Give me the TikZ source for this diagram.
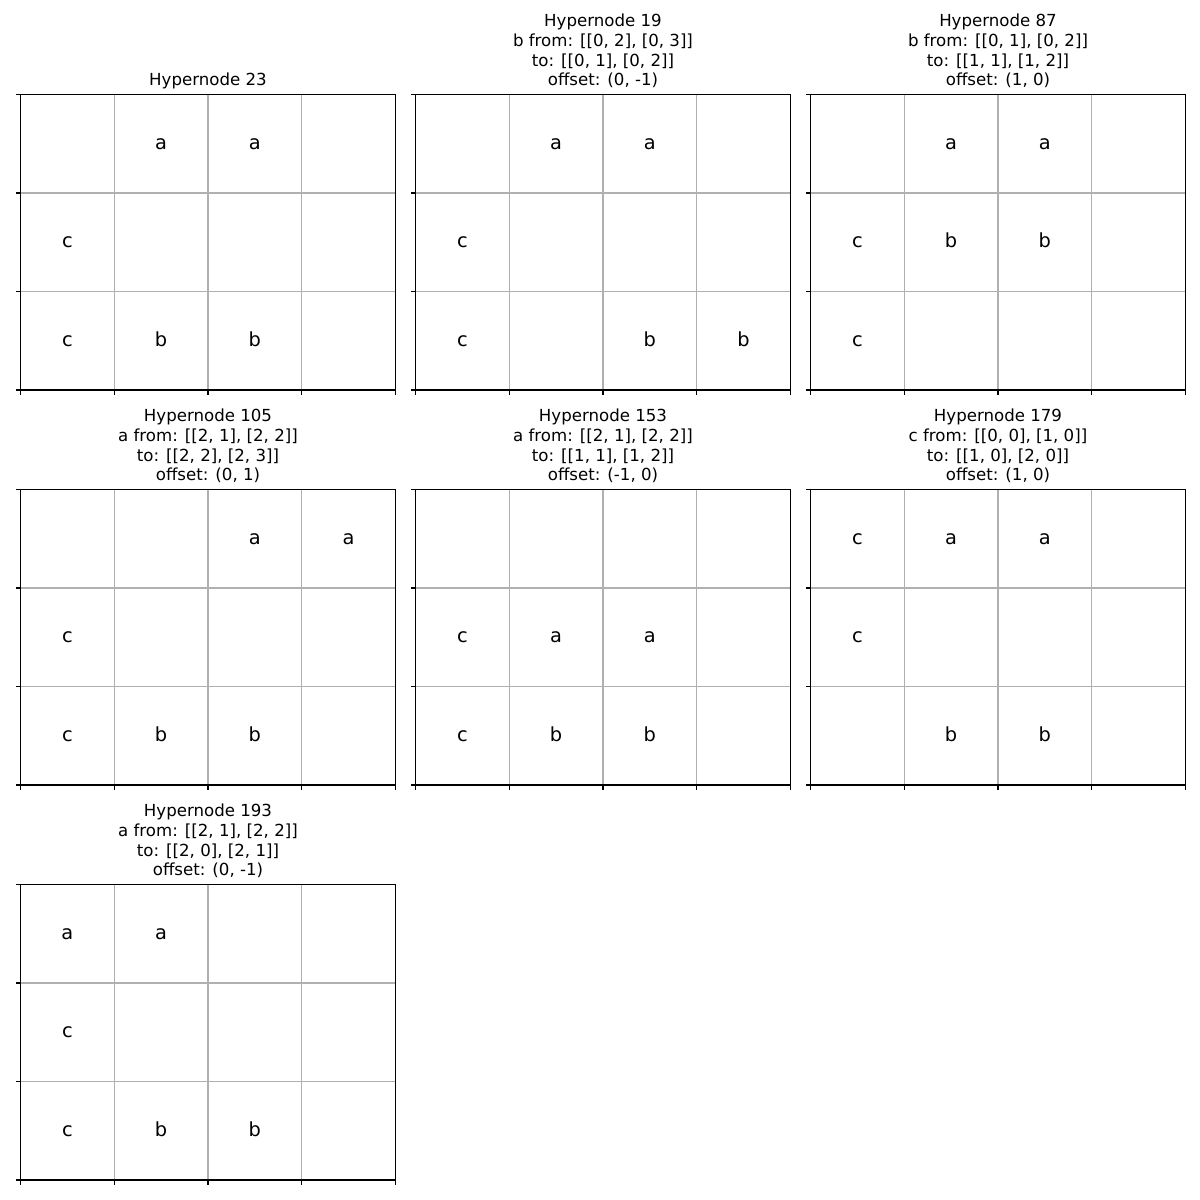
\documentclass[tikz,border=0pt]{standalone}
\usepackage{fontspec}
\setmainfont{DejaVu Sans}
\definecolor{gridgray}{HTML}{B0B0B0}

% one grid panel: id, left, top, title, cells row/col/letter
\newcommand{\hyperpanel}[5]{%
  \begin{scope}[shift={(#2,#3)}]
    \foreach \i in {1,2,3}
      \draw[gridline] (\i*93.75,0) -- (\i*93.75,295.5);
    \foreach \j in {1,2}
      \draw[gridline] (0,\j*98.5) -- (375,\j*98.5);
    \draw[frame] (0,0) rectangle (375,295.5);
    \foreach \i in {0,...,4}
      \draw[frame] (\i*93.75,295.5) -- ++(0,4.86);
    \foreach \j in {0,...,3}
      \draw[frame] (0,\j*98.5) -- ++(-4.86,0);
    \node[paneltitle] (p#1-title) at (187.5,-2.3) {#4\strut};
    \foreach \r/\c/\l in {#5}
      \node[cell] (p#1-\r-\c) at ({(\c+0.5)*93.75},{(\r+0.5)*98.5+5.7}) {\l};
  \end{scope}}

\begin{document}
\begin{tikzpicture}[
    x=0.01in, y=-0.01in,
    gridline/.style={draw=gridgray,line width=0.8pt},
    frame/.style={draw=black,line width=0.8pt},
    paneltitle/.style={anchor=south,inner sep=0pt,align=center,font=\fontsize{12}{14.4}\selectfont},
    cell/.style={anchor=base,inner sep=0pt,font=\fontsize{14}{16.8}\selectfont}
]
    \useasboundingbox (0,0) rectangle (1200,1200);

    % first row
    \hyperpanel{23}{20.5}{94.5}{Hypernode 23}
      {0/1/a, 0/2/a, 1/0/c, 2/0/c, 2/1/b, 2/2/b}
    \hyperpanel{19}{415.5}{94.5}{Hypernode 19\\b from: [[0, 2], [0, 3]]\\to: [[0, 1], [0, 2]]\\offset: (0, -1)}
      {0/1/a, 0/2/a, 1/0/c, 2/0/c, 2/2/b, 2/3/b}
    \hyperpanel{87}{810.5}{94.5}{Hypernode 87\\b from: [[0, 1], [0, 2]]\\to: [[1, 1], [1, 2]]\\offset: (1, 0)}
      {0/1/a, 0/2/a, 1/0/c, 1/1/b, 1/2/b, 2/0/c}

    % second row
    \hyperpanel{105}{20.5}{489.5}{Hypernode 105\\a from: [[2, 1], [2, 2]]\\to: [[2, 2], [2, 3]]\\offset: (0, 1)}
      {0/2/a, 0/3/a, 1/0/c, 2/0/c, 2/1/b, 2/2/b}
    \hyperpanel{153}{415.5}{489.5}{Hypernode 153\\a from: [[2, 1], [2, 2]]\\to: [[1, 1], [1, 2]]\\offset: (-1, 0)}
      {1/0/c, 1/1/a, 1/2/a, 2/0/c, 2/1/b, 2/2/b}
    \hyperpanel{179}{810.5}{489.5}{Hypernode 179\\c from: [[0, 0], [1, 0]]\\to: [[1, 0], [2, 0]]\\offset: (1, 0)}
      {0/0/c, 0/1/a, 0/2/a, 1/0/c, 2/1/b, 2/2/b}

    % third row
    \hyperpanel{193}{20.5}{884.5}{Hypernode 193\\a from: [[2, 1], [2, 2]]\\to: [[2, 0], [2, 1]]\\offset: (0, -1)}
      {0/0/a, 0/1/a, 1/0/c, 2/0/c, 2/1/b, 2/2/b}
\end{tikzpicture}
\end{document}
